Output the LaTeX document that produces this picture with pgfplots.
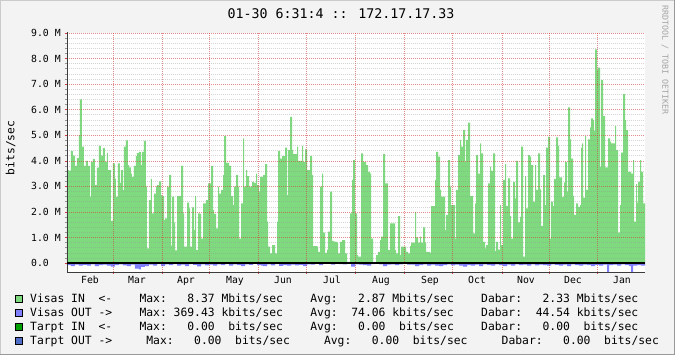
\documentclass[border=0pt]{standalone}
\usepackage{fontspec}
\usepackage{pgfplots}
\pgfplotsset{compat=1.18}
\usetikzlibrary{arrows.meta}
\newfontfamily\mono{DejaVu Sans Mono}
\definecolor{bgc}{HTML}{F3F3F3}
\definecolor{ingreen}{RGB}{127,218,127}
\definecolor{outblue}{RGB}{128,128,255}
\definecolor{tinc}{RGB}{0,160,0}
\definecolor{toutc}{RGB}{80,110,200}
\definecolor{arrowc}{HTML}{7F0000}
\definecolor{mgridc}{RGB}{210,60,60}
\definecolor{gridc}{RGB}{150,150,150}
\definecolor{axisc}{RGB}{60,60,60}
\definecolor{shadea}{RGB}{203,203,203}
\definecolor{shadeb}{RGB}{153,153,153}
\definecolor{wmark}{RGB}{165,165,165}
\begin{document}
\begin{tikzpicture}[x=1pt,y=1pt]
\path[use as bounding box] (0,0) rectangle (675,355);
\fill[bgc] (0,0) rectangle (675,355);
\draw[shadea, line width=1pt] (0.5,0) -- (0.5,354.5) -- (675,354.5);
\draw[shadeb, line width=1pt] (0,0.5) -- (674.5,0.5) -- (674.5,355);
\begin{axis}[
  at={(67pt,83pt)}, anchor=south west,
  width=578pt, height=239pt, scale only axis,
  xmin=67, xmax=645, ymin=-0.35, ymax=9,
  axis background/.style={fill=white},
  axis x line*=bottom, axis y line*=left,
  axis line style={axisc, line width=0.8pt},
  axis on top,
  xtick={113,162,209,258,306,355,404,452,502,549,597},
  xticklabels={},
  extra x ticks={90,137,186,235,283,332,381,430,477,526,573,622},
  extra x tick labels={Feb,Mar,Apr,May,Jun,Jul,Aug,Sep,Oct,Nov,Dec,Jan},
  extra x tick style={grid=none, major tick length=0pt,
     xticklabel style={font=\mono\fontsize{9.8}{10}\selectfont, anchor=north, inner sep=0pt, yshift=-4pt}},
  ytick={0,1,2,3,4,5,6,7,8,9},
  yticklabels={0.0,1.0 M,2.0 M,3.0 M,4.0 M,5.0 M,6.0 M,7.0 M,8.0 M,9.0 M},
  yticklabel style={font=\mono\fontsize{9.8}{10}\selectfont, anchor=west, inner sep=0pt, xshift=-34pt},
  minor y tick num=4,
  xmajorgrids, ymajorgrids, yminorgrids,
  major grid style={mgridc, opacity=0.6, line width=0.6pt, dash pattern=on 1pt off 1pt},
  minor grid style={gridc, opacity=0.4, line width=0.6pt, dash pattern=on 1pt off 1pt},
  tick align=outside, major tick length=2pt, minor tick length=2pt,
  major tick style={mgridc, line width=0.6pt},
  minor tick style={gridc, line width=0.6pt},
  extra y ticks={0}, extra y tick labels={},
  extra y tick style={grid=major, major grid style={black, opacity=1, solid, line width=1.6pt}},
  ylabel={bits/sec},
  ylabel style={font=\mono\fontsize{11.3}{12}\selectfont, at={(axis description cs:-0.0974,0.519)}, anchor=center},
]
\addplot[fill=ingreen, draw=none, const plot mark left] coordinates {
(67,3.64)(69,3.62)(71,4.38)(73,4.2)(75,3.8)(77,4.1)(79,5.0)(80,6.4)(82,4.55)(84,3.8)
(86,4.0)(88,3.8)(90,2.6)(91,3.96)(93,4.07)(95,3.05)(97,3.73)(99,4.58)(101,4.2)(103,4.5)
(105,3.96)(107,4.3)(108,3.64)(110,3.64)(111,1.65)(113,3.9)(115,3.3)(116,2.6)(118,3.9)(120,3.14)
(121,3.64)(123,2.85)(124,4.55)(126,4.8)(128,3.83)(129,3.74)(131,3.5)(132,3.37)(134,3.8)(136,4.18)
(137,4.3)(139,4.35)(141,3.83)(142,4.35)(144,4.78)(146,3.0)(147,0.57)(149,2.46)(151,3.29)(152,1.94)
(154,2.72)(156,3.0)(157,3.05)(159,3.2)(161,2.66)(162,2.62)(164,1.68)(165,1.75)(167,2.99)(169,3.44)
(171,0.68)(172,2.6)(174,1.58)(175,0.5)(177,2.62)(179,2.62)(181,3.8)(183,1.94)(184,0.64)(186,0.64)
(187,2.36)(189,2.14)(190,0.64)(192,2.18)(194,1.29)(195,2.62)(196,0.51)(198,1.94)(200,1.92)(201,0.96)
(203,2.33)(205,2.33)(206,2.46)(208,3.12)(209,3.12)(211,3.8)(213,2.07)(214,1.92)(216,1.36)(218,2.99)
(219,2.72)(221,2.86)(223,3.44)(224,4.97)(226,3.92)(228,3.92)(229,3.8)(231,2.62)(233,2.27)(234,2.99)
(236,3.44)(238,2.99)(239,0.96)(241,2.33)(243,4.88)(244,2.99)(246,3.64)(247,3.4)(249,2.99)(251,2.99)
(252,3.18)(254,3.14)(256,3.5)(257,3.05)(259,2.79)(260,3.37)(262,3.37)(263,3.44)(265,3.87)(267,1.62)
(268,0.64)(270,0.38)(272,0.7)(273,0.7)(275,0.38)(277,1.62)(278,4.38)(280,4.09)(282,4.18)(283,4.18)
(285,4.52)(287,2.66)(288,4.42)(290,5.72)(292,4.42)(293,4.26)(295,4.26)(297,4.55)(298,4.0)(300,4.0)
(302,4.58)(303,3.96)(305,4.45)(307,3.64)(308,3.64)(310,4.18)(312,3.44)(313,0.66)(315,0.66)(317,0.64)
(318,0.44)(320,2.99)(322,3.5)(323,1.19)(325,0.4)(327,0.53)(328,1.23)(330,2.79)(332,0.87)(333,0.85)
(335,0.83)(337,0.8)(338,0.38)(340,0.83)(342,0.9)(343,0.9)(345,0.38)(347,0.05)(348,0.05)(350,1.94)
(352,3.25)(353,4.03)(355,1.94)(357,0.31)(358,0.25)(360,0.25)(361,4.29)(363,3.96)(365,3.96)(366,3.83)
(368,3.57)(370,3.5)(371,0.96)(373,0)(375,0)(376,0.31)(378,0.44)(380,0.9)(381,1.03)(383,4.26)
(385,3.12)(386,3.12)(388,0.51)(390,1.55)(391,1.55)(393,1.55)(395,0.51)(396,0.38)(398,1.84)(400,0.31)
(401,0.64)(403,0.64)(405,0.64)(406,0.44)(408,0.38)(410,0.66)(411,0.8)(413,0.8)(415,2.0)(416,1.0)
(418,0.8)(420,1.03)(421,0.8)(423,1.4)(425,0.8)(426,0.44)(428,0.44)(430,0.4)(431,2.23)(433,2.23)
(435,3.25)(436,4.35)(438,4.16)(440,2.86)(441,2.6)(443,2.6)(445,1.29)(446,1.88)(448,4.03)(450,2.99)
(451,2.27)(453,2.27)(455,0.96)(456,2.86)(458,4.22)(460,4.81)(461,4.55)(463,5.2)(465,3.96)(466,4.81)
(468,5.49)(470,2.62)(471,2.62)(473,1.16)(475,2.33)(476,4.22)(478,3.5)(480,4.68)(481,4.29)(483,0.83)
(485,0.57)(486,0.7)(488,3.12)(490,3.77)(491,3.61)(493,4.29)(495,0.47)(496,0.83)(498,0.53)(500,2.27)
(501,0.7)(503,3.25)(505,3.87)(506,2.23)(508,3.31)(510,1.84)(511,0.96)(513,3.18)(515,2.53)(516,4.0)
(518,1.59)(520,1.81)(521,4.55)(523,0.25)(525,3.4)(526,2.14)(528,4.22)(530,4.16)(531,3.83)(533,2.4)
(535,3.83)(536,2.86)(538,4.29)(540,2.88)(541,1.45)(543,3.44)(545,2.27)(546,4.52)(548,4.94)(550,0.96)
(551,2.4)(553,2.23)(554,3.29)(556,4.92)(558,4.58)(559,3.35)(561,3.35)(562,2.59)(564,3.16)(565,3.96)
(567,2.79)(568,6.09)(570,4.84)(571,4.09)(573,2.63)(574,1.88)(576,2.33)(578,2.2)(580,2.27)(581,4.52)
(582,4.68)(583,2.56)(585,4.97)(586,2.86)(588,4.84)(590,5.31)(591,5.66)(593,5.59)(594,5.18)(595,8.36)
(597,7.55)(598,7.65)(600,3.77)(601,7.16)(603,5.75)(605,3.74)(606,3.74)(608,4.88)(610,4.75)(611,4.68)
(613,4.68)(615,5.36)(616,4.42)(618,1.19)(620,2.27)(621,4.32)(623,6.61)(625,5.59)(626,5.2)(628,3.57)
(630,3.57)(631,3.5)(633,4.03)(634,1.62)(636,3.09)(637,2.36)(638,3.18)(640,4.03)(641,3.57)(643,2.33)
(645,2.33)
} \closedcycle;
\addplot[fill=outblue, draw=none, const plot mark left] coordinates {
(67,-0.08)(71,-0.12)(75,-0.06)(79,-0.1)(83,-0.07)(87,-0.1)(91,-0.05)(95,-0.12)(99,-0.08)(103,-0.06)
(107,-0.1)(111,-0.14)(115,-0.08)(119,-0.05)(123,-0.09)(127,-0.12)(131,-0.06)(135,-0.22)(139,-0.25)(141,-0.15)
(145,-0.12)(149,-0.06)(153,-0.1)(157,-0.04)(161,-0.12)(165,-0.05)(169,-0.08)(173,-0.04)(177,-0.1)(181,-0.06)
(185,-0.12)(189,-0.04)(193,-0.07)(197,-0.13)(201,-0.05)(205,-0.09)(209,-0.06)(213,-0.1)(217,-0.05)(221,-0.08)
(225,-0.04)(229,-0.1)(233,-0.05)(237,-0.08)(241,-0.12)(245,-0.05)(249,-0.07)(253,-0.03)(257,-0.08)(261,-0.1)
(263,-0.12)(267,-0.05)(271,-0.09)(275,-0.04)(279,-0.11)(283,-0.08)(287,-0.1)(291,-0.06)(295,-0.09)(299,-0.07)
(303,-0.12)(307,-0.05)(311,-0.06)(315,-0.02)(319,-0.08)(323,-0.03)(327,-0.02)(331,-0.06)(335,-0.03)(339,-0.04)
(343,-0.05)(347,-0.02)(351,-0.14)(355,-0.05)(359,-0.06)(363,-0.08)(367,-0.1)(371,-0.04)(375,-0.02)(379,-0.05)
(383,-0.12)(387,-0.06)(391,-0.05)(395,-0.08)(399,-0.05)(403,-0.03)(407,-0.06)(411,-0.06)(415,-0.12)(419,-0.08)
(423,-0.05)(427,-0.1)(431,-0.06)(435,-0.1)(439,-0.12)(443,-0.08)(447,-0.05)(451,-0.09)(455,-0.06)(459,-0.1)
(463,-0.14)(467,-0.08)(471,-0.1)(475,-0.06)(479,-0.12)(483,-0.05)(487,-0.08)(491,-0.1)(495,-0.05)(499,-0.08)
(503,-0.12)(507,-0.06)(511,-0.1)(515,-0.05)(519,-0.08)(523,-0.06)(527,-0.1)(531,-0.05)(535,-0.09)(539,-0.06)
(543,-0.08)(547,-0.1)(551,-0.05)(555,-0.07)(559,-0.1)(563,-0.06)(567,-0.12)(571,-0.05)(575,-0.08)(579,-0.1)
(583,-0.06)(587,-0.08)(591,-0.12)(595,-0.07)(599,-0.1)(603,-0.06)(607,-0.37)(609,-0.08)(613,-0.06)(617,-0.1)
(621,-0.05)(625,-0.08)(629,-0.12)(631,-0.36)(633,-0.1)(637,-0.08)(641,-0.1)(645,-0.1)
} \closedcycle;
\draw[axisc, line width=0.8pt, -{Triangle[length=6pt, width=5pt, color=arrowc, fill=arrowc]}] (rel axis cs:1,0) -- ([xshift=8pt]rel axis cs:1,0);
\draw[axisc, line width=0.8pt, -{Triangle[length=6pt, width=5pt, color=arrowc, fill=arrowc]}] (rel axis cs:0,1) -- ([yshift=7pt]rel axis cs:0,1);
\end{axis}
\node[font=\mono\fontsize{13.3}{14}\selectfont, inner sep=0pt] at (341,341) {01-30 6:31:4 :: 172.17.17.33};
\node[rotate=-90, font=\mono\fontsize{8.3}{9}\selectfont, text=wmark, inner sep=0pt] at (665,295) {RRDTOOL / TOBI OETIKER};
\filldraw[fill=ingreen, draw=black, line width=0.6pt] (15.5,52.5) rectangle (22.5,59.5);
\filldraw[fill=outblue, draw=black, line width=0.6pt] (15.5,38.5) rectangle (22.5,45.5);
\filldraw[fill=tinc, draw=black, line width=0.6pt] (15.5,24.5) rectangle (22.5,31.5);
\filldraw[fill=toutc, draw=black, line width=0.6pt] (15.5,10.5) rectangle (22.5,17.5);
\begin{scope}[every node/.style={anchor=base west, inner sep=0pt, font=\mono\fontsize{11.35}{12}\selectfont}]
\node at (30,52) {Visas~IN~~<-~~~~Max:~~~8.37~Mbits/sec~~~~Avg:~~~2.87~Mbits/sec~~~~Dabar:~~~2.33~Mbits/sec};
\node at (30,38) {Visas~OUT~->~~~~Max:~369.43~kbits/sec~~~~Avg:~~74.06~kbits/sec~~~~Dabar:~~44.54~kbits/sec};
\node at (30,24) {Tarpt~IN~~<-~~~~Max:~~~0.00~~bits/sec~~~~Avg:~~~0.00~~bits/sec~~~~Dabar:~~~0.00~~bits/sec};
\node at (30,10) {Tarpt~OUT~->~~~~~Max:~~~0.00~~bits/sec~~~~~Avg:~~~0.00~~bits/sec~~~~~Dabar:~~~0.00~~bits/sec};
\end{scope}
\end{tikzpicture}
\end{document}
